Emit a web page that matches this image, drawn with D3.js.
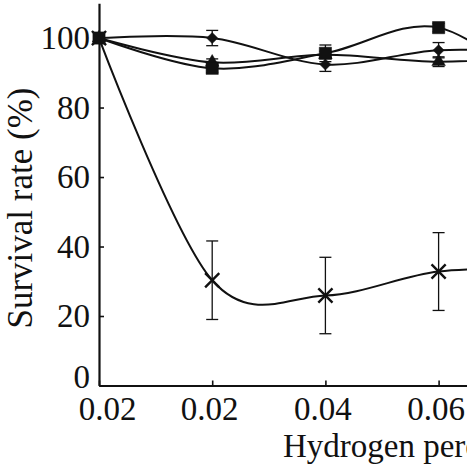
<!DOCTYPE html>
<html>
<head>
<meta charset="utf-8">
<script src="https://cdn.jsdelivr.net/npm/d3@7"></script>
<style>
  html, body { margin: 0; padding: 0; background: #fff; overflow: hidden; }
  svg { display: block; }
</style>
</head>
<body>
<script>
// x categories (the 5th one lies past the right edge of the crop)
const xLabels = ['0.02', '0.02', '0.04', '0.06', '0.08'];
const yTicks = [0, 20, 40, 60, 80, 100];

// survival rate (%) per series
const diamondVals = [100, 100, 92.4, 96.5, 95.5];
const squareVals = [100, 91.3, 95.6, 103, 82];
const triangleVals = [100, 93, 95.2, 93.2, 95];
const crossVals = [100, 30.3, 25.9, 32.8, 33.5];

// error bar half-widths
const diamondErr = [0, 2.2, 2, 2.2, 0];
const squareErr = [0, 1.2, 2.4, 1.2, 0];
const triangleErr = [0, 1, 1, 1.4, 0];
const crossErr = [0, 11.3, 11, 11.2, 0];

const width = 467, height = 465;
const font = 'Liberation Serif, Times New Roman, serif';

const svg = d3.select('body').append('svg')
  .attr('width', width)
  .attr('height', height);

const x = d3.scaleLinear().domain([0, 4]).range([99, 99 + 4 * 113.2]);
const y = d3.scaleLinear().domain([0, 110]).range([385.5, 3.3]);

// custom "x" marker for the cross series
const symbolX = {
  draw(ctx, size) {
    const r = Math.sqrt(size) / 2;
    ctx.moveTo(-r, -r); ctx.lineTo(r, r);
    ctx.moveTo(r, -r); ctx.lineTo(-r, r);
  }
};

const series = [
  { vals: triangleVals, err: triangleErr, sym: d3.symbolTriangle, size: 80, rot: 0, fill: '#111' },
  { vals: diamondVals, err: diamondErr, sym: d3.symbolSquare, size: 62, rot: 45, fill: '#111' },
  { vals: squareVals, err: squareErr, sym: d3.symbolSquare, size: 150, rot: 0, fill: '#111' },
  { vals: crossVals, err: crossErr, sym: symbolX, size: 200, rot: 0, fill: 'none', stroke: true }
];

const line = d3.line()
  .x((d, i) => x(i))
  .y(d => y(d))
  .curve(d3.curveCardinal.tension(0));

// axes
const yAxis = d3.axisLeft(y)
  .tickValues(yTicks)
  .tickSizeInner(-5)
  .tickSizeOuter(0)
  .tickPadding(9)
  .tickFormat(d3.format('d'));

const xAxis = d3.axisBottom(x)
  .tickValues(d3.range(xLabels.length))
  .tickSizeInner(-5)
  .tickSizeOuter(0)
  .tickPadding(11)
  .tickFormat(i => xLabels[i]);

const gx = svg.append('g')
  .attr('transform', `translate(0,${y(0)})`)
  .call(xAxis);

const gy = svg.append('g')
  .attr('transform', `translate(${x(0)},0)`)
  .call(yAxis);

[gx, gy].forEach(g => {
  g.select('.domain').attr('stroke', '#111').attr('stroke-width', 2.2);
  g.selectAll('.tick line').attr('stroke', '#111').attr('stroke-width', 1.6);
  g.selectAll('.tick text')
    .attr('font-family', font)
    .attr('font-size', 33)
    .attr('fill', '#111');
});

// nudge labels near the corner the way the original figure sits
gx.selectAll('.tick text').attr('dx', d => d === 0 ? 8 : -3);
gy.selectAll('.tick text').filter(d => d === 0).attr('dy', '0.05em');

// lines
series.forEach(s => {
  svg.append('path')
    .attr('d', line(s.vals))
    .attr('fill', 'none')
    .attr('stroke', '#111')
    .attr('stroke-width', 2);
});

// error bars
series.forEach(s => {
  const eb = svg.append('g').attr('stroke', '#111').attr('stroke-width', 1.3);
  s.vals.forEach((v, i) => {
    if (!s.err[i]) return;
    const cx = x(i);
    eb.append('line')
      .attr('x1', cx).attr('x2', cx)
      .attr('y1', y(v + s.err[i])).attr('y2', y(v - s.err[i]));
    [v + s.err[i], v - s.err[i]].forEach(e => {
      eb.append('line')
        .attr('x1', cx - 6).attr('x2', cx + 6)
        .attr('y1', y(e)).attr('y2', y(e));
    });
  });
});

// markers
series.forEach(s => {
  svg.append('g').selectAll('path')
    .data(s.vals)
    .join('path')
    .attr('transform', (d, i) => `translate(${x(i)},${y(d)}) rotate(${s.rot})`)
    .attr('d', d3.symbol().type(s.sym).size(s.size))
    .attr('fill', s.fill)
    .attr('stroke', '#111')
    .attr('stroke-width', s.stroke ? 2.4 : 0.5);
});

// axis titles
svg.append('text')
  .attr('transform', 'translate(32,208) rotate(-90)')
  .attr('text-anchor', 'middle')
  .attr('font-family', font)
  .attr('font-size', 35)
  .attr('fill', '#111')
  .text('Survival rate (%)');

svg.append('text')
  .attr('x', 283)
  .attr('y', 457)
  .attr('font-family', font)
  .attr('font-size', 33)
  .attr('fill', '#111')
  .text('Hydrogen peroxide concentration (%)');
</script>
</body>
</html>
